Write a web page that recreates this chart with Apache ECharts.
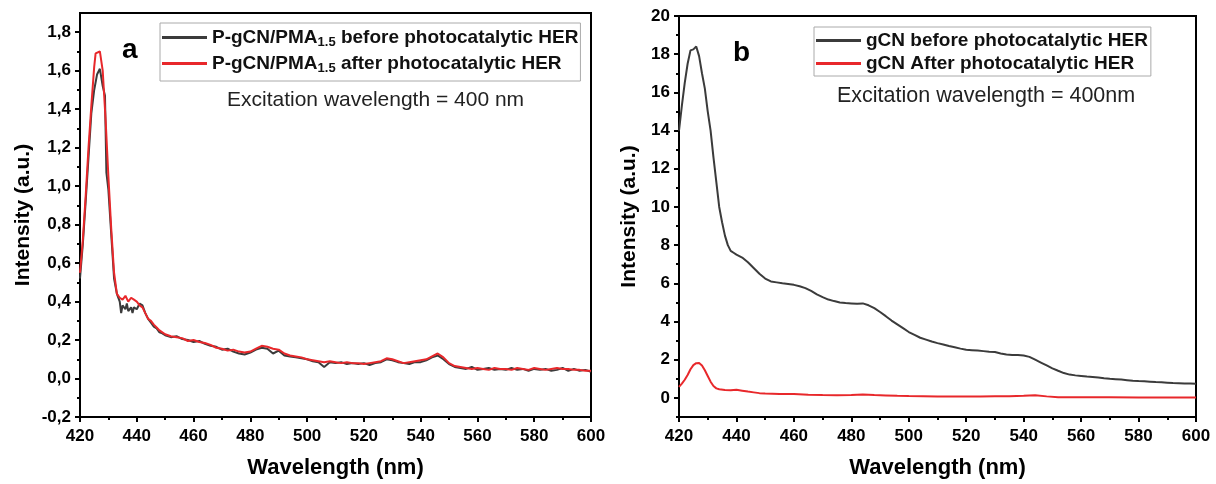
<!DOCTYPE html>
<html>
<head>
<meta charset="utf-8">
<script src="https://cdn.jsdelivr.net/npm/echarts@6/dist/echarts.min.js"></script>
<style>html,body{margin:0;padding:0;background:#fff;}#c{width:1216px;height:484px;}</style>
</head>
<body>
<div id="c"></div>
<script>
// ---------- Panel a data ----------
const aBeforeWl = [420,421,422,423,424,425,426,427,428,428.8,429.3,430,431,432,433,434,434.5,435,436,436.5,437,438,438.5,439,440,441,442,443,444,445,446,447,448,449,
 450,452,454,456,458,460,462,464,466,468,470,472,474,476,478,480,482,484,486,488,490,492,494,496,498,500,502,504,506,508,510,512,514,516,518,520,522,524,526,528,530,532,534,536,538,540,542,544,546,548,550,552,554,556,558,560,562,564,566,568,570,572,574,576,578,580,582,584,586,588,590,592,594,596,598,600];
const aBeforeVal = [0.52,0.70,0.92,1.15,1.38,1.50,1.58,1.61,1.52,1.47,1.07,0.98,0.75,0.52,0.44,0.40,0.34,0.38,0.36,0.39,0.35,0.37,0.34,0.37,0.36,0.39,0.38,0.34,0.31,0.29,0.27,0.26,0.24,0.235,
 0.225,0.215,0.22,0.205,0.20,0.19,0.195,0.18,0.17,0.165,0.15,0.155,0.14,0.13,0.125,0.135,0.15,0.16,0.155,0.13,0.145,0.12,0.115,0.11,0.105,0.10,0.09,0.085,0.06,0.085,0.08,0.085,0.075,0.08,0.075,0.08,0.07,0.08,0.085,0.10,0.095,0.085,0.08,0.075,0.085,0.085,0.095,0.11,0.12,0.10,0.075,0.06,0.055,0.05,0.06,0.045,0.05,0.055,0.045,0.05,0.045,0.055,0.045,0.05,0.04,0.05,0.045,0.05,0.04,0.045,0.055,0.04,0.05,0.04,0.045,0.035];
const aAfterWl = [420,421,422,423,424,425,425.5,426,427,427.5,428,429,430,431,432,433,434,435,436,437,438,439,440,441,442,443,444,445,446,447,448,449,
 450,452,454,456,458,460,462,464,466,468,470,472,474,476,478,480,482,484,486,488,490,492,494,496,498,500,502,504,506,508,510,512,514,516,518,520,522,524,526,528,530,532,534,536,538,540,542,544,546,548,550,552,554,556,558,560,562,564,566,568,570,572,574,576,578,580,582,584,586,588,590,592,594,596,598,600];
const aAfterVal = [0.55,0.72,0.95,1.20,1.42,1.62,1.69,1.70,1.70,1.71,1.60,1.35,1.05,0.78,0.55,0.44,0.42,0.41,0.43,0.40,0.42,0.41,0.40,0.38,0.37,0.34,0.31,0.30,0.28,0.265,0.25,0.24,
 0.23,0.22,0.215,0.21,0.195,0.20,0.19,0.185,0.175,0.16,0.155,0.145,0.15,0.14,0.135,0.14,0.155,0.17,0.165,0.155,0.15,0.13,0.12,0.115,0.11,0.10,0.095,0.09,0.085,0.09,0.085,0.08,0.085,0.08,0.08,0.075,0.08,0.085,0.09,0.105,0.10,0.09,0.08,0.085,0.09,0.095,0.10,0.115,0.13,0.11,0.08,0.065,0.06,0.055,0.05,0.055,0.05,0.045,0.055,0.05,0.05,0.045,0.055,0.05,0.045,0.055,0.05,0.045,0.05,0.055,0.05,0.05,0.045,0.045,0.04,0.04];

// ---------- Panel b data ----------
const bBeforeWl = [420,421,422,423,424,425,426,427,428,429,430,431,432,433,434,435,436,437,438,439,440,442,444,446,448,450,452,454,456,458,460,462,464,466,468,470,472,474,476,478,480,482,484,486,488,490,492,494,496,498,500,502,504,506,508,510,512,514,516,518,520,522,524,526,528,530,532,534,536,538,540,542,544,546,548,550,552,554,556,558,560,562,564,566,568,570,572,574,576,578,580,582,584,586,588,590,592,594,596,598,600];
const bBeforeVal = [14.0,15.3,16.5,17.5,18.2,18.25,18.4,17.9,17.0,16.2,15.0,14.0,12.6,11.3,10.0,9.2,8.5,8.0,7.7,7.6,7.5,7.35,7.1,6.8,6.5,6.25,6.1,6.05,6.0,5.97,5.92,5.85,5.75,5.6,5.42,5.28,5.15,5.07,5.0,4.97,4.95,4.93,4.95,4.85,4.7,4.5,4.28,4.05,3.85,3.65,3.45,3.3,3.15,3.05,2.95,2.87,2.8,2.72,2.65,2.58,2.52,2.5,2.48,2.45,2.42,2.4,2.33,2.27,2.25,2.25,2.22,2.15,2.0,1.85,1.7,1.55,1.42,1.3,1.22,1.18,1.15,1.12,1.1,1.07,1.03,1.0,0.98,0.96,0.93,0.9,0.88,0.87,0.85,0.83,0.82,0.8,0.78,0.77,0.76,0.75,0.74];
const bAfterWl = [420,421,422,423,424,425,426,427,428,429,430,431,432,433,434,436,438,440,442,444,446,448,450,455,460,465,470,475,480,484,488,492,496,500,505,510,515,520,525,530,535,540,544,548,552,560,570,580,590,600];
const bAfterVal = [0.58,0.75,0.95,1.2,1.5,1.72,1.82,1.83,1.7,1.45,1.15,0.85,0.62,0.5,0.45,0.42,0.4,0.43,0.38,0.33,0.29,0.25,0.23,0.21,0.2,0.17,0.15,0.14,0.15,0.18,0.15,0.13,0.11,0.1,0.09,0.08,0.07,0.07,0.08,0.09,0.09,0.11,0.14,0.08,0.04,0.03,0.03,0.02,0.02,0.02];

// ---------- tick values & labels ----------
const aYTicks = [-0.2,0,0.2,0.4,0.6,0.8,1.0,1.2,1.4,1.6,1.8];
const aYMinor = [-0.1,0.1,0.3,0.5,0.7,0.9,1.1,1.3,1.5,1.7];
const bYTicks = [0,2,4,6,8,10,12,14,16,18,20];
const bYMinor = [-1,1,3,5,7,9,11,13,15,17,19];

const names = {
  a1: 'P-gCN/PMA1.5 before photocatalytic HER',
  a2: 'P-gCN/PMA1.5 after photocatalytic HER',
  b1: 'gCN before photocatalytic HER',
  b2: 'gCN After photocatalytic HER'
};

const FONT = 'Liberation Sans, Arial, sans-serif';
const BLACK = '#3b3b3b', RED = '#e8282b';
const zip = (xs, ys) => xs.map((x, i) => [x, ys[i]]);

function xAxisDef(gi) {
  return {
    type: 'value', gridIndex: gi, min: 420, max: 600, interval: 20,
    name: 'Wavelength (nm)', nameLocation: 'middle', nameGap: 40,
    nameTextStyle: {fontFamily: FONT, fontWeight: 'bold', fontSize: 22, color: '#000'},
    axisLine: {show: true, onZero: false, lineStyle: {color: '#000', width: 2}},
    axisTick: {show: true, inside: false, length: 5, lineStyle: {color: '#000', width: 2}},
    minorTick: {show: true, splitNumber: 2, length: 3, lineStyle: {color: '#000', width: 2}},
    splitLine: {show: false}, minorSplitLine: {show: false},
    axisLabel: {fontFamily: FONT, fontWeight: 'bold', fontSize: 17, color: '#000', margin: 11}
  };
}
function yAxisDef(gi, min, max, ticks, fmt, nameGap) {
  return {
    type: 'value', gridIndex: gi, min: min, max: max,
    name: 'Intensity (a.u.)', nameLocation: 'middle', nameGap: nameGap, nameRotate: 90,
    nameTextStyle: {fontFamily: FONT, fontWeight: 'bold', fontSize: 21, color: '#000'},
    axisLine: {show: true, onZero: false, lineStyle: {color: '#000', width: 2}},
    axisTick: {show: true, length: 5, customValues: ticks, lineStyle: {color: '#000', width: 2}},
    splitLine: {show: false},
    axisLabel: {customValues: ticks, formatter: fmt, fontFamily: FONT, fontWeight: 'bold', fontSize: 17, color: '#000', margin: 9}
  };
}
function yMinorDef(gi, min, max, ticks) {
  return {
    type: 'value', gridIndex: gi, min: min, max: max, position: 'left',
    axisLine: {show: false, onZero: false},
    axisTick: {show: true, length: 3, customValues: ticks, lineStyle: {color: '#000', width: 2}},
    axisLabel: {show: false}, splitLine: {show: false}
  };
}

const legendText = {fontFamily: FONT, fontWeight: 'bold', fontSize: 19, color: '#111',
  rich: {sub: {fontFamily: FONT, fontWeight: 'bold', fontSize: 13, color: '#111', padding: [10, 0, 0, 0]}}};

const chart = echarts.init(document.getElementById('c'), null, {renderer: 'canvas'});
chart.setOption({
  animation: false,
  backgroundColor: '#fff',
  grid: [
    {left: 80, top: 13, width: 511, height: 407, show: true, borderColor: '#000', borderWidth: 2, backgroundColor: 'transparent'},
    {left: 679, top: 16, width: 517, height: 402.5, show: true, borderColor: '#000', borderWidth: 2, backgroundColor: 'transparent'}
  ],
  xAxis: [xAxisDef(0), xAxisDef(1)],
  yAxis: [
    yAxisDef(0, -0.2, 1.9, aYTicks, v => v.toFixed(1).replace('.', ','), 46),
    yAxisDef(1, -1, 20, bYTicks, v => String(Math.round(v)), 39),
    yMinorDef(0, -0.2, 1.9, aYMinor),
    yMinorDef(1, -1, 20, bYMinor)
  ],
  legend: [
    {data: [names.a1, names.a2], orient: 'vertical', left: 160, top: 23, itemGap: 5,
     icon: 'rect', itemWidth: 45, itemHeight: 3, padding: [5, 2, 6, 2],
     borderColor: '#aaa', borderWidth: 1, textStyle: legendText,
     formatter: n => n.replace('1.5', '{sub|1.5}')},
    {data: [names.b1, names.b2], orient: 'vertical', left: 814, top: 27, itemGap: 4,
     icon: 'rect', itemWidth: 45, itemHeight: 3, padding: [4, 3, 3, 2],
     borderColor: '#aaa', borderWidth: 1, textStyle: legendText}
  ],
  graphic: [
    {type: 'text', left: 122, top: 36, style: {text: 'a', font: 'bold 28px ' + FONT, fill: '#000'}},
    {type: 'text', left: 733, top: 39, style: {text: 'b', font: 'bold 28px ' + FONT, fill: '#000'}},
    {type: 'text', left: 227, top: 90, style: {text: 'Excitation wavelength = 400 nm', font: '21px ' + FONT, fill: '#222'}},
    {type: 'text', left: 837, top: 85, style: {text: 'Excitation wavelength = 400nm', font: '21.5px ' + FONT, fill: '#222'}}
  ],
  series: [
    {name: names.a1, type: 'line', xAxisIndex: 0, yAxisIndex: 0, data: zip(aBeforeWl, aBeforeVal), symbol: 'none', lineStyle: {color: BLACK, width: 2}, itemStyle: {color: BLACK}},
    {name: names.a2, type: 'line', xAxisIndex: 0, yAxisIndex: 0, data: zip(aAfterWl, aAfterVal), symbol: 'none', lineStyle: {color: RED, width: 2}, itemStyle: {color: RED}},
    {name: names.b1, type: 'line', xAxisIndex: 1, yAxisIndex: 1, data: zip(bBeforeWl, bBeforeVal), symbol: 'none', lineStyle: {color: BLACK, width: 2}, itemStyle: {color: BLACK}},
    {name: names.b2, type: 'line', xAxisIndex: 1, yAxisIndex: 1, data: zip(bAfterWl, bAfterVal), symbol: 'none', lineStyle: {color: RED, width: 2}, itemStyle: {color: RED}}
  ]
});
</script>
</body>
</html>
